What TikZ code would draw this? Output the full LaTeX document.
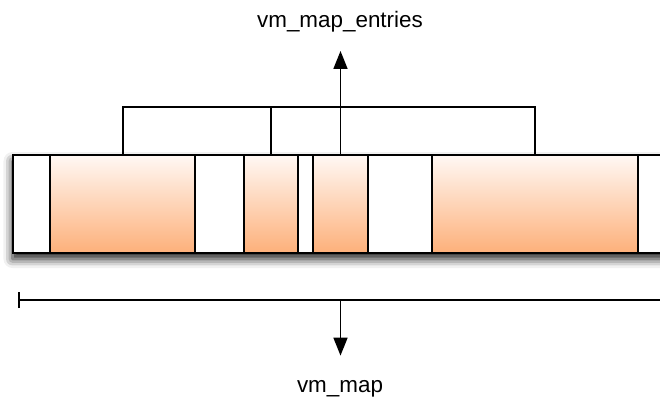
\documentclass[tikz,border=0pt]{standalone}
\usepackage{fontspec}
\setmainfont{Liberation Sans}
\usetikzlibrary{shapes,arrows,arrows.meta,positioning,calc,shadows.blur}
\definecolor{entrytop}{RGB}{255,248,244}
\definecolor{entrybot}{RGB}{253,176,122}

\begin{document}
\begin{tikzpicture}[x=1bp, y=-1bp, line width=2bp,
  slot/.style={draw, rectangle, anchor=north west, inner sep=0pt, outer sep=0pt, minimum height=98bp},
  entry/.style={slot, top color=entrytop, bottom color=entrybot},
  lbl/.style={font=\fontsize{22.5}{27}\selectfont, anchor=base},
  pointer/.style={-{Triangle[length=18bp,width=14bp]}, line width=1.6bp}]
\useasboundingbox (0,0) rectangle (660,398);
\clip (0,0) rectangle (660,398);

% Address space
\node[slot, fill=white, minimum width=700bp,
  blur shadow={shadow xshift=0bp, shadow yshift=-6bp, shadow blur radius=9bp, shadow opacity=90}] (map) at (12.5,155) {};

% Free gaps and map entries
\node[slot, minimum width=37.5bp] (free1) at (12.5,155) {};
\node[entry, minimum width=145bp] (e1) at (50,155) {};
\node[slot, minimum width=49bp] (free2) at (195,155) {};
\node[entry, minimum width=54bp] (e2) at (244,155) {};
\node[slot, minimum width=15bp] (free3) at (298,155) {};
\node[entry, minimum width=55bp] (e3) at (313,155) {};
\node[slot, minimum width=64bp] (free4) at (368,155) {};
\node[entry, minimum width=206bp] (e4) at (432,155) {};
\node[slot, minimum width=60bp] (free5) at (638,155) {};

% Bracket over the entries
\coordinate (join) at ($(e1.north)+(0,-48)$);
\draw (e1.north) -- (e1.north |- join) -- (e4.north |- join) -- (e4.north);
\draw (e2.north) -- (e2.north |- join);

% vm_map_entries
\node[lbl] (entries) at (340,27) {vm\_map\_entries};
\draw[pointer, shorten >=15bp] (e3.north) -- (e3.north |- entries.south);

% vm_map
\coordinate (start) at (17.7,300);
\coordinate (end) at (700,300);
\draw[{Bar[width=16bp]}-] (start) -- (end);
\coordinate (mid) at (e3.south |- start);
\node[lbl] (vmmap) at (340,392) {vm\_map};
\draw[pointer, shorten >=20bp] (mid) -- (mid |- vmmap.north);
\end{tikzpicture}
\end{document}
